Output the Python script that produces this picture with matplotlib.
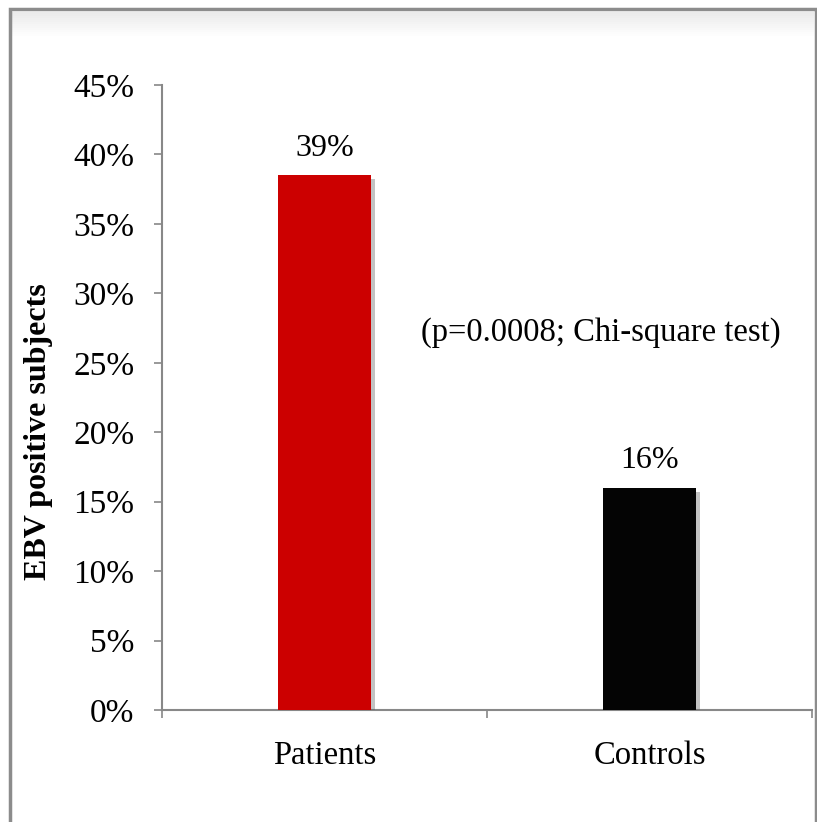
import matplotlib
matplotlib.use("Agg")
import matplotlib.pyplot as plt
import matplotlib.patheffects as pe
from matplotlib.patches import Rectangle

groups = ["Patients", "Controls"]
values = [38.5, 16.0]          # percent EBV positive
value_labels = ["39%", "16%"]
bar_colors = ["#cc0000", "#040404"]
yticks = [0, 5, 10, 15, 20, 25, 30, 35, 40, 45]

plt.rcParams["font.family"] = ["Liberation Serif", "DejaVu Serif"]

fig = plt.figure(figsize=(8.17, 8.22), dpi=100)

# gray outer frame
frame = Rectangle((10/817, -0.05), 806/817, 1 - 9/822 + 0.05, transform=fig.transFigure,
                  fill=False, edgecolor="#8c8c8c", linewidth=2.5, zorder=0)
fig.patches.append(frame)
# faint shading just inside the top edge
for i in range(12):
    fig.patches.append(Rectangle((12/817, 1 - (12 + (i+1)*2)/822), 802/817, 2/822,
                                 transform=fig.transFigure, color="black",
                                 alpha=0.08 * (1 - i/12), linewidth=0, zorder=0))

ax = fig.add_axes([162/817, 1 - 710/822, 650/817, 625/822])
x = [0.5, 1.5]
bars = ax.bar(x, values, width=0.285, color=bar_colors, zorder=3)
for b in bars:
    b.set_path_effects([pe.SimplePatchShadow(offset=(3, -3), shadow_rgbFace="#555555", alpha=0.35),
                        pe.Normal()])

for xi, v, lab in zip(x, values, value_labels):
    ax.text(xi, v + 1.95, lab, ha="center", va="center", fontsize=23)

ax.text(1.35, 27.2, "(p=0.0008; Chi-square test)", ha="center", va="center", fontsize=23.5)

ax.set_xlim(0, 2)
ax.set_ylim(0, 45)
ax.set_yticks(yticks)
ax.set_yticklabels([f"{t}%" for t in yticks], fontsize=24)
ax.set_xticks(x)
ax.set_xticklabels(groups, fontsize=23.5)
ax.set_xticks([0, 1, 2], minor=True)
ax.tick_params(axis="x", which="major", length=0, pad=22)
ax.tick_params(axis="x", which="minor", length=6, width=1.2, color="#888888", direction="out")
ax.tick_params(axis="y", length=6, width=1.2, color="#888888", pad=14)

for s in ["top", "right"]:
    ax.spines[s].set_visible(False)
for s in ["left", "bottom"]:
    ax.spines[s].set_color("#888888")
    ax.spines[s].set_linewidth(1.5)

ax.set_ylabel("EBV positive subjects", fontsize=23, fontweight="bold")
ax.yaxis.set_label_coords(-0.168, 0.445)

fig.savefig("out.png", dpi=100)
